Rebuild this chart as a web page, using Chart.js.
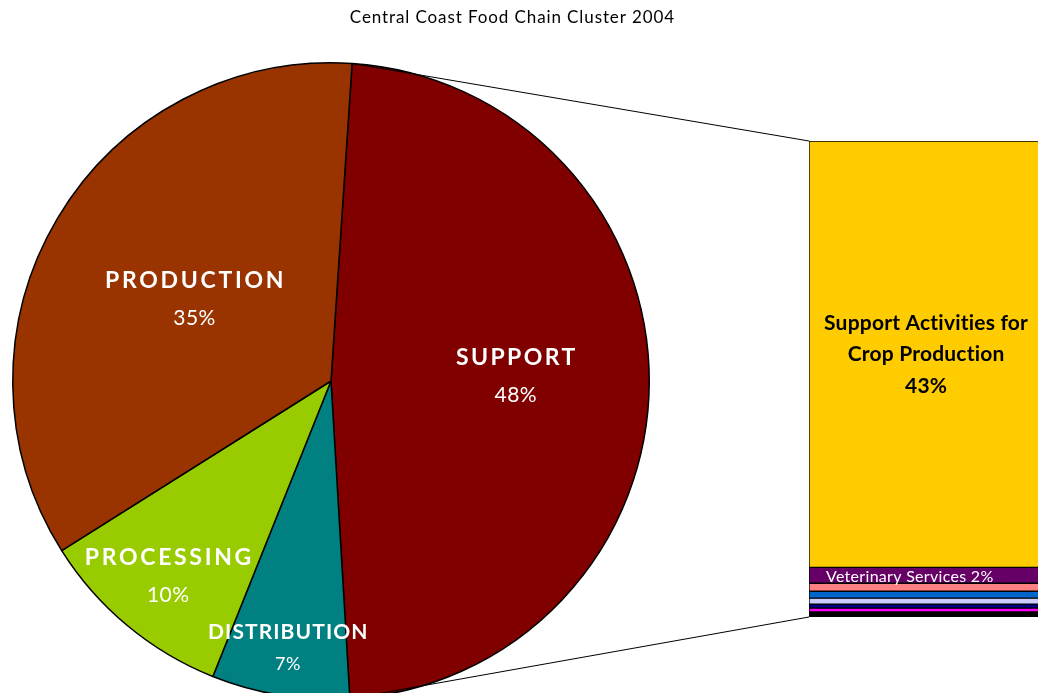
<!DOCTYPE html>
<html>
<head>
<meta charset="utf-8">
<script src="https://cdn.jsdelivr.net/npm/chart.js@4.4.1/dist/chart.umd.min.js"></script>
<style>
  html, body { margin: 0; padding: 0; background: #ffffff; overflow: hidden; width: 1038px; height: 693px; }
  canvas { position: absolute; left: 0; top: 0; }
</style>
</head>
<body>
<canvas id="pie" width="662" height="762"></canvas>
<canvas id="bar" width="1060" height="693"></canvas>
<script>
// Food chain cluster segments (share of total, %)
const categories = ['SUPPORT', 'DISTRIBUTION', 'PROCESSING', 'PRODUCTION'];
const shares = [48, 7, 10, 35];

// Breakdown of the SUPPORT segment (share of total, %), top to bottom
const supportItems = [
  'Support Activities for Crop Production',
  'Veterinary Services',
  'Other Support 1',
  'Other Support 2',
  'Other Support 3',
  'Other Support 4',
  'Other Support 5',
  'Other Support 6'
];
const supportShares = [43, 1.6, 0.8, 0.7, 0.6, 0.4, 0.4, 0.5];

const chartTitle = 'Central Coast Food Chain Cluster 2004';

const sliceColors = ['#800000', '#008080', '#99CC00', '#993300'];
const barColors = ['#FFCC00', '#660066', '#FF8080', '#0066CC', '#CCCCFF', '#000080', '#FF00FF', '#000000'];

const FONT = 'Lato, "Open Sans", sans-serif';

// label placement inside each slice: fraction of radius, font sizes, spacing
const sliceLabelStyle = [
  { r: 0.58, dy: -5, size: 23, ls: 2.4, pct: 21, gap: 19 },
  { r: 0.85, dy: 0,  size: 21, ls: 1.1, pct: 18, gap: 16 },
  { r: 0.80, dy: 0,  size: 23, ls: 2.7, pct: 21, gap: 19 },
  { r: 0.50, dy: 0,  size: 23, ls: 2.7, pct: 21, gap: 19 }
];

function spacedText(ctx, text, x, y, spacing) {
  ctx.letterSpacing = spacing + 'px';
  // trailing spacing is added after the last glyph; shift to keep it centred
  ctx.fillText(text, x + spacing / 2, y);
  ctx.letterSpacing = '0px';
}

const pieLabels = {
  id: 'pieLabels',
  afterDatasetsDraw(chart) {
    const ctx = chart.ctx;
    const meta = chart.getDatasetMeta(0);
    ctx.save();
    ctx.fillStyle = '#ffffff';
    ctx.textAlign = 'center';
    ctx.textBaseline = 'middle';
    meta.data.forEach((arc, i) => {
      const st = sliceLabelStyle[i];
      const mid = (arc.startAngle + arc.endAngle) / 2;
      const x = arc.x + Math.cos(mid) * arc.outerRadius * st.r;
      const y = arc.y + Math.sin(mid) * arc.outerRadius * st.r + st.dy;
      ctx.font = 'bold ' + st.size + 'px ' + FONT;
      spacedText(ctx, categories[i], x, y - st.gap, st.ls);
      ctx.font = st.pct + 'px ' + FONT;
      spacedText(ctx, shares[i] + '%', x, y + st.gap, 0.5);
    });
    ctx.restore();
  }
};

const pieChart = new Chart(document.getElementById('pie'), {
  type: 'pie',
  data: {
    labels: categories,
    datasets: [{
      data: shares,
      backgroundColor: sliceColors,
      borderColor: '#000000',
      borderWidth: 1.5
    }]
  },
  options: {
    responsive: false,
    animation: false,
    devicePixelRatio: 1,
    rotation: 3.8,
    layout: { padding: { left: 12, right: 12, top: 62, bottom: 62 } },
    plugins: { legend: { display: false }, tooltip: { enabled: false }, title: { display: false } }
  },
  plugins: [pieLabels]
});

const barDecor = {
  id: 'barDecor',
  afterDatasetsDraw(chart) {
    const ctx = chart.ctx;
    const area = chart.chartArea;
    ctx.save();

    // title
    ctx.fillStyle = '#000000';
    ctx.textAlign = 'center';
    ctx.textBaseline = 'middle';
    ctx.font = '17px ' + FONT;
    spacedText(ctx, chartTitle, 512, 18, 0.9);

    // connector lines from the split slice to the bar
    const arc = pieChart.getDatasetMeta(0).data[0];
    const r = arc.outerRadius;
    const sx = arc.x + Math.cos(arc.startAngle) * r;
    const sy = arc.y + Math.sin(arc.startAngle) * r;
    const ex = arc.x + Math.cos(arc.endAngle) * r;
    const ey = arc.y + Math.sin(arc.endAngle) * r;
    ctx.strokeStyle = '#000000';
    ctx.lineWidth = 1;
    ctx.beginPath();
    ctx.moveTo(sx, sy);
    ctx.lineTo(area.left, area.top);
    ctx.moveTo(ex, ey);
    ctx.lineTo(area.left, area.bottom);
    ctx.stroke();

    // segment labels
    const yScale = chart.scales.y;
    const cx = (area.left + area.right) / 2;
    let acc = 0;
    supportShares.forEach((v, i) => {
      const top = yScale.getPixelForValue(acc);
      const bot = yScale.getPixelForValue(acc + v);
      const mid = (top + bot) / 2;
      acc += v;
      const pct = Math.round(v) + '%';
      if (i === 0) {
        ctx.fillStyle = '#000000';
        ctx.font = 'bold 21px ' + FONT;
        ctx.textAlign = 'center';
        spacedText(ctx, 'Support Activities for', cx - 2, mid - 31, 0.2);
        spacedText(ctx, 'Crop Production', cx - 2, mid, 0.2);
        spacedText(ctx, pct, cx - 2, mid + 32, 0.2);
      } else if (i === 1) {
        ctx.fillStyle = '#ffffff';
        ctx.font = '16px ' + FONT;
        ctx.textAlign = 'left';
        ctx.letterSpacing = '0.3px';
        ctx.fillText(supportItems[i] + ' ' + pct, area.left + 17, mid + 1);
        ctx.letterSpacing = '0px';
      }
    });
    ctx.restore();
  }
};

const barChart = new Chart(document.getElementById('bar'), {
  type: 'bar',
  data: {
    labels: ['SUPPORT'],
    datasets: supportItems.map((name, i) => ({
      label: name,
      data: [supportShares[i]],
      backgroundColor: barColors[i],
      borderColor: '#000000',
      borderWidth: 1,
      borderSkipped: false,
      barPercentage: 1,
      categoryPercentage: 1
    }))
  },
  options: {
    responsive: false,
    animation: false,
    devicePixelRatio: 1,
    layout: { padding: { left: 809, right: 13, top: 141, bottom: 76 } },
    scales: {
      x: { stacked: true, display: false },
      y: { stacked: true, display: false, reverse: true, min: 0, max: supportShares.reduce((a, b) => a + b, 0) }
    },
    plugins: { legend: { display: false }, tooltip: { enabled: false }, title: { display: false } }
  },
  plugins: [barDecor]
});
</script>
</body>
</html>
